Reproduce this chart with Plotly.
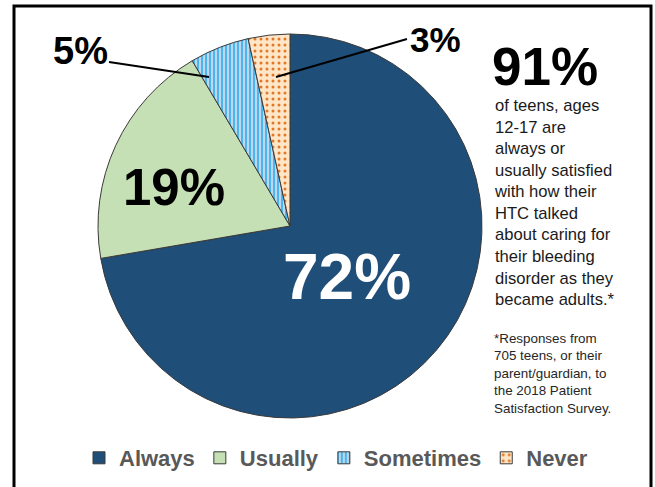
import plotly.graph_objects as go

W, H = 655, 487

# Data
categories = ["Always", "Usually", "Sometimes", "Never"]
values = [72.3, 19.2, 5.0, 3.5]
value_labels = ["72%", "19%", "5%", "3%"]
headline = "91%"
body_lines = ["of teens, ages", "12-17 are", "always or", "usually satisfied",
              "with how their", "HTC talked", "about caring for", "their bleeding",
              "disorder as they", "became adults.*"]
note_lines = ["*Responses from", "705 teens, or their", "parent/guardian, to",
              "the 2018 Patient", "Satisfaction Survey."]

colors = ["#1F4E79", "#C5E0B4", "#BDD7EE", "#FFE6C7"]
FONT = "Liberation Sans, Arial, sans-serif"


def px(x):
    return x / W


def py(y):
    return 1 - y / H


cx, cy, r = 290, 226, 192

fig = go.Figure(go.Pie(
    labels=categories,
    values=values,
    sort=False,
    direction="clockwise",
    rotation=0,
    textinfo="none",
    hoverinfo="label+percent",
    marker=dict(
        colors=colors,
        line=dict(color="#3a3a3a", width=1),
        pattern=dict(
            shape=["", "", "|", "."],
            fgcolor=["#1F4E79", "#C5E0B4", "#1AA7EC", "#E0782A"],
            bgcolor=colors,
            size=[8, 8, 4, 6],
            solidity=[0.3, 0.3, 0.35, 0.2],
            fillmode="replace",
        ),
    ),
    domain=dict(x=[px(cx - r), px(cx + r)], y=[py(cy + r), py(cy - r)]),
))

annotations = []
# slice value labels
label_pos = [(347, 277, 64, "white"), (174, 188, 51, "black"),
             (80, 51, 38, "black"), (436, 39, 35, "black")]
for txt, (x, y, s, c) in zip(value_labels, label_pos):
    annotations.append(dict(x=px(x), y=py(y), xref="paper", yref="paper",
                            text=f"<b>{txt}</b>", showarrow=False,
                            font=dict(family=FONT, size=s, color=c),
                            xanchor="center", yanchor="middle"))

annotations.append(dict(x=px(545), y=py(67), xref="paper", yref="paper",
                        text=f"<b>{headline}</b>", showarrow=False,
                        font=dict(family=FONT, size=53, color="black"),
                        xanchor="center", yanchor="middle"))
annotations.append(dict(x=px(492), y=py(202), xref="paper", yref="paper",
                        text="<br>".join(body_lines), showarrow=False, align="left",
                        font=dict(family=FONT, size=16.6, color="#1a1a1a"),
                        xanchor="left", yanchor="middle"))
annotations.append(dict(x=px(492), y=py(373), xref="paper", yref="paper",
                        text="<br>".join(note_lines), showarrow=False, align="left",
                        font=dict(family=FONT, size=13.4, color="#262626"),
                        xanchor="left", yanchor="middle"))

shapes = [
    # leader lines
    dict(type="line", xref="paper", yref="paper", x0=px(109), y0=py(62),
         x1=px(209), y1=py(77), line=dict(color="black", width=2)),
    dict(type="line", xref="paper", yref="paper", x0=px(276), y0=py(77),
         x1=px(407), y1=py(39), line=dict(color="black", width=2)),
    # frame
    dict(type="rect", xref="paper", yref="paper", x0=px(14), y0=py(500),
         x1=px(651), y1=py(6), line=dict(color="black", width=3),
         fillcolor="rgba(0,0,0,0)"),
]

fig.update_layout(
    width=W, height=H,
    margin=dict(l=0, r=0, t=0, b=0),
    paper_bgcolor="white",
    plot_bgcolor="white",
    showlegend=True,
    legend=dict(orientation="h", x=px(336), xanchor="center",
                y=py(458), yanchor="middle",
                font=dict(family=FONT, size=22, color="#595959", weight="bold"),
                traceorder="normal", itemclick=False),
    annotations=annotations,
    shapes=shapes,
)

fig.write_html("out.html",
               config={"displayModeBar": False},
               post_script="document.body.style.margin='0';document.body.style.overflow='hidden';")
